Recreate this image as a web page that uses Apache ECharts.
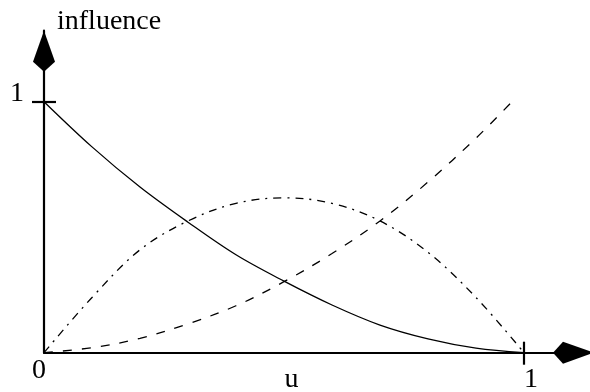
<!DOCTYPE html>
<html>
<head>
<meta charset="utf-8">
<script src="https://cdn.jsdelivr.net/npm/echarts@6/dist/echarts.min.js"></script>
<style>
  html, body { margin: 0; padding: 0; background: #fff; }
  #chart { width: 590px; height: 392px; }
</style>
</head>
<body>
<div id="chart"></div>
<script>
// Parameter positions along u
const uSamples = [0, 0.1, 0.2, 0.3, 0.4, 0.5, 0.6, 0.7, 0.8, 0.9, 1.0];
// Falling basis curve (solid)
const solidInfluence = [1.0, 0.82, 0.66, 0.52, 0.39, 0.285, 0.19, 0.11, 0.055, 0.018, 0];
// Middle basis curve (dash-dot)
const dashDotInfluence = [0, 0.22, 0.41, 0.525, 0.595, 0.617, 0.595, 0.525, 0.40, 0.22, 0];
// Rising basis curve (dashed)
const dashedU = [0, 0.1, 0.2, 0.3, 0.4, 0.5, 0.6, 0.7, 0.8, 0.9, 0.975];
const dashedInfluence = [0, 0.02, 0.057, 0.115, 0.187, 0.283, 0.395, 0.525, 0.68, 0.855, 1.0];

// Axis ticks and labels
const xTickValues = [1];
const xLabelValues = [0, 1];
const xLabelTexts = ['0', '1'];
const yTickValues = [1];
const yLabelValues = [1];
const yLabelTexts = ['1'];
const xName = 'u';
const yName = 'influence';

const FONT = '"Liberation Serif", "Times New Roman", serif';
const FS = 28;
const X_MAX = 1.1375;
const Y_MAX = 1.2829;
const ARROW = 'path://M11 0 L22 31 L11 41 L0 31 Z';

function pairs(xs, ys) { return xs.map((x, i) => [x, ys[i]]); }

const chart = echarts.init(document.getElementById('chart'), null, { renderer: 'canvas' });

const axisLineStyle = { color: '#000', width: 2.2 };

chart.setOption({
  animation: false,
  backgroundColor: '#fff',
  grid: { left: 44, right: 0, top: 30.7, bottom: 39.3, containLabel: false, outerBoundsMode: 'none' },
  xAxis: [
    {
      type: 'value', min: 0, max: X_MAX, position: 'bottom',
      splitLine: { show: false },
      axisLine: {
        show: true, onZero: false, lineStyle: axisLineStyle,
        symbol: ['none', ARROW], symbolSize: [22, 41], symbolOffset: [0, -16.5]
      },
      axisTick: { show: true, customValues: xTickValues, length: 12, lineStyle: axisLineStyle },
      axisLabel: {
        show: true, customValues: xLabelValues, margin: 4,
        fontFamily: FONT, fontSize: FS, color: '#000',
        formatter: v => {
          const i = xLabelValues.indexOf(v);
          return i === 0 ? '{a|' + xLabelTexts[i] + '}' : '{b|' + xLabelTexts[i] + '}';
        },
        rich: {
          a: { fontFamily: FONT, fontSize: FS, color: '#000', padding: [0, 10, 0, 0] },
          b: { fontFamily: FONT, fontSize: FS, color: '#000', padding: [9, 0, 0, 14] }
        }
      },
      name: xName, nameLocation: 'middle', nameGap: 13, nameMoveOverlap: false,
      nameTextStyle: { fontFamily: FONT, fontSize: FS, color: '#000', padding: [0, 51, 0, 0] }
    },
    {
      type: 'value', min: 0, max: X_MAX, position: 'bottom',
      splitLine: { show: false },
      axisLine: { show: false },
      axisTick: { show: true, inside: true, customValues: xTickValues, length: 11, lineStyle: axisLineStyle },
      axisLabel: { show: false }
    }
  ],
  yAxis: [
    {
      type: 'value', min: 0, max: Y_MAX, position: 'left',
      splitLine: { show: false },
      axisLine: {
        show: true, onZero: false, lineStyle: axisLineStyle,
        symbol: ['none', ARROW], symbolSize: [22, 41], symbolOffset: [0, -20.5]
      },
      axisTick: { show: true, customValues: yTickValues, length: 12, lineStyle: axisLineStyle },
      axisLabel: {
        show: true, customValues: yLabelValues, margin: 20,
        fontFamily: FONT, fontSize: FS, color: '#000',
        formatter: v => yLabelTexts[yLabelValues.indexOf(v)],
        verticalAlign: 'bottom', lineHeight: 16
      },
      name: yName, nameLocation: 'end', nameGap: -5, nameMoveOverlap: false,
      nameTextStyle: { fontFamily: FONT, fontSize: FS, color: '#000', align: 'left', padding: [0, 0, 0, 13] }
    },
    {
      type: 'value', min: 0, max: Y_MAX, position: 'left',
      splitLine: { show: false },
      axisLine: { show: false },
      axisTick: { show: true, inside: true, customValues: yTickValues, length: 12, lineStyle: axisLineStyle },
      axisLabel: { show: false }
    }
  ],
  series: [
    {
      name: 'solid', type: 'line', smooth: 0.35, showSymbol: false, silent: true,
      data: pairs(uSamples, solidInfluence),
      lineStyle: { color: '#000', width: 1.3, type: 'solid' }
    },
    {
      name: 'dash-dot', type: 'line', smooth: 0.35, showSymbol: false, silent: true,
      data: pairs(uSamples, dashDotInfluence),
      lineStyle: { color: '#000', width: 1.3, type: [8, 6, 2, 6] }
    },
    {
      name: 'dashed', type: 'line', smooth: 0.35, showSymbol: false, silent: true,
      data: pairs(dashedU, dashedInfluence),
      lineStyle: { color: '#000', width: 1.3, type: [9, 10] }
    }
  ]
});
</script>
</body>
</html>
